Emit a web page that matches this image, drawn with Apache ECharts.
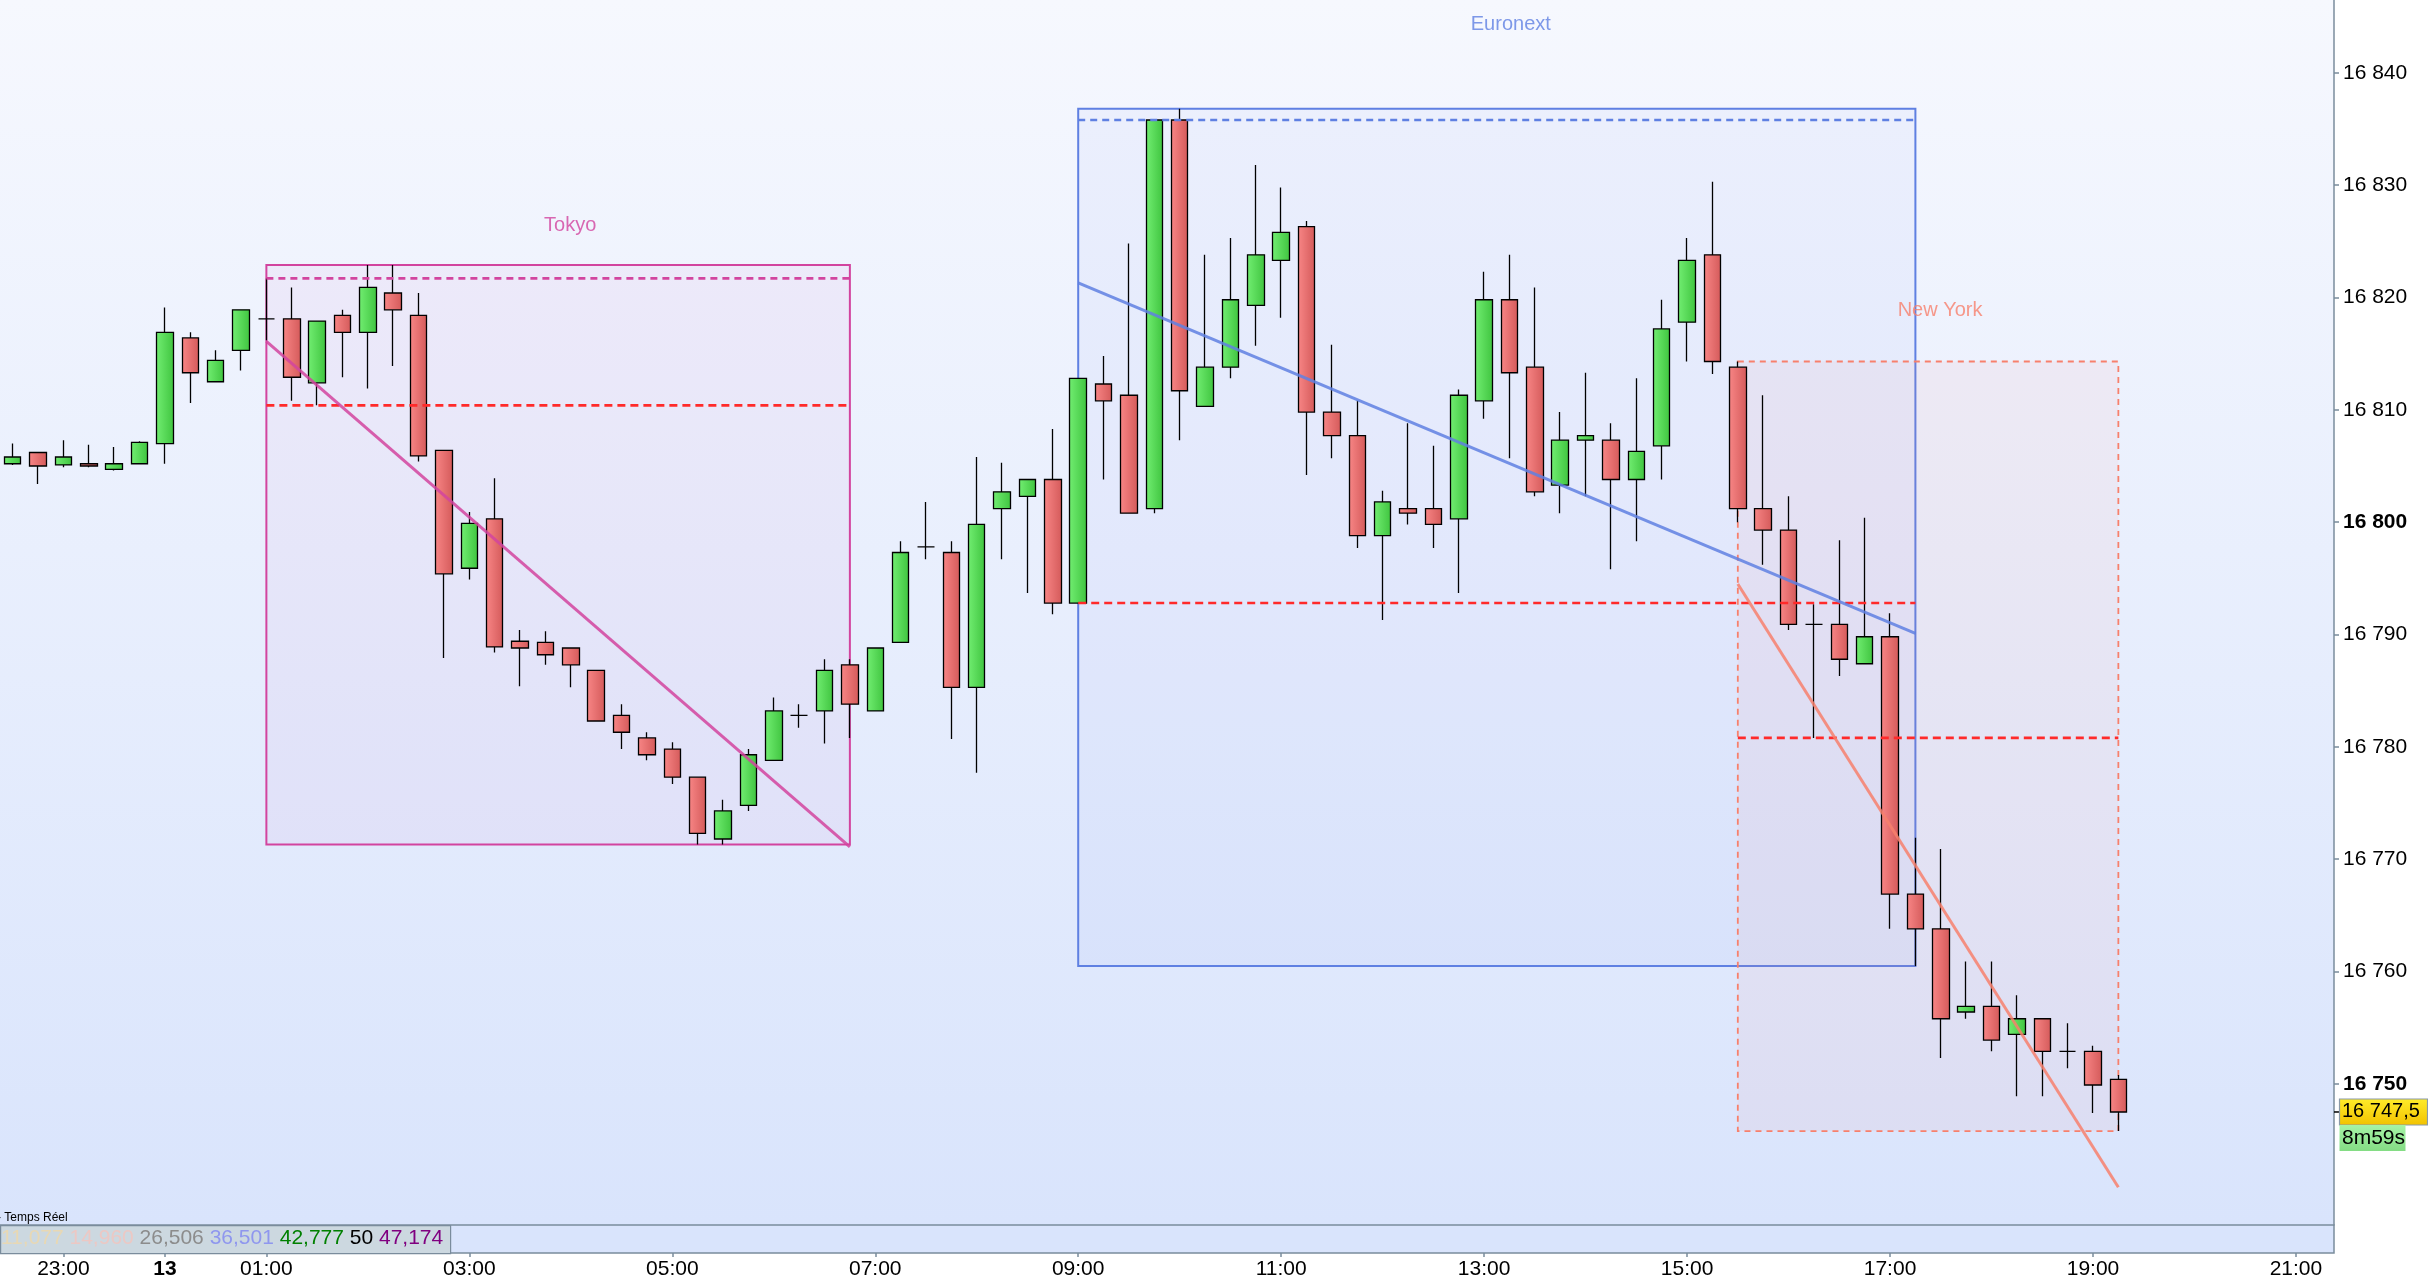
<!DOCTYPE html>
<html><head><meta charset="utf-8">
<script src="https://cdn.jsdelivr.net/npm/echarts@6/dist/echarts.min.js"></script>
<style>html,body{margin:0;padding:0;background:#fff;}#c{width:2428px;height:1282px;}</style>
</head><body><div id="c"></div>
<script>
// ---------- DATA ----------
const times = [];
for (let i = 0; i < 92; i++) {
  const m = (22 * 60 + 30 + i * 15) % 1440;
  times.push(String(Math.floor(m / 60)).padStart(2, '0') + ':' + String(m % 60).padStart(2, '0'));
}
const tickLabels = ['23:00','00:00','01:00','03:00','05:00','07:00','09:00','11:00','13:00','15:00','17:00','19:00','21:00'];
const dayLabel = { '00:00': '13' };
const yTickValues = [16750, 16760, 16770, 16780, 16790, 16800, 16810, 16820, 16830, 16840];
const boldPrices = [16750, 16800];

const open  = [16805.2,16806.2,16805.1,16805.2,16804.7,16805.2,16807.0,16816.4,16812.5,16815.3,
               16818.1,16818.1,16812.4,16818.4,16816.9,16820.4,16818.4,16806.4,16795.9,16800.3,
               16789.4,16789.3,16788.8,16786.8,16782.8,16780.8,16779.8,16777.3,16771.8,16774.8,
               16778.8,16782.8,16783.2,16787.3,16783.2,16789.3,16797.8,16797.3,16785.3,16801.2,
               16802.3,16803.8,16792.8,16812.3,16811.3,16801.2,16835.8,16810.3,16813.8,16819.3,
               16823.3,16826.3,16809.8,16807.7,16798.8,16801.2,16801.2,16800.3,16810.8,16819.8,
               16813.8,16803.3,16807.3,16807.3,16803.8,16806.8,16817.8,16823.8,16813.8,16801.2,
               16799.3,16790.9,16790.9,16787.4,16789.8,16766.9,16763.8,16756.4,16756.9,16754.4,
               16755.8,16752.9,16752.9,16750.4];
const close = [16805.8,16805.0,16805.8,16805.0,16805.2,16807.1,16816.9,16813.3,16814.4,16818.9,
               16818.1,16812.9,16817.9,16816.9,16820.9,16818.9,16805.9,16795.4,16799.9,16788.9,
               16788.8,16788.2,16787.3,16782.3,16781.3,16779.3,16777.3,16772.3,16774.3,16779.3,
               16783.2,16782.8,16786.8,16783.8,16788.8,16797.3,16797.8,16785.3,16799.8,16802.7,
               16803.8,16792.8,16812.8,16810.8,16800.8,16835.8,16811.7,16813.8,16819.8,16823.8,
               16825.8,16809.8,16807.7,16798.8,16801.8,16800.8,16799.8,16811.3,16819.8,16813.3,
               16802.7,16807.3,16807.7,16803.8,16806.3,16817.2,16823.3,16814.3,16801.2,16799.3,
               16790.9,16790.9,16787.8,16789.8,16766.9,16763.8,16755.8,16756.9,16753.9,16755.8,
               16752.9,16752.9,16749.9,16747.5];
const low   = [16805.1,16803.4,16804.9,16804.9,16804.6,16805.2,16805.2,16810.6,16812.5,16813.5,
               16816.2,16810.8,16810.4,16812.9,16811.9,16813.9,16805.4,16787.9,16794.9,16788.4,
               16785.4,16787.3,16785.3,16782.3,16779.8,16778.8,16776.7,16771.3,16771.3,16774.3,
               16778.8,16781.7,16780.3,16780.8,16783.2,16789.3,16796.7,16780.7,16777.7,16796.7,
               16793.7,16791.8,16792.8,16803.8,16800.8,16800.8,16807.3,16810.3,16812.8,16815.7,
               16818.2,16804.2,16805.7,16797.7,16791.3,16799.8,16797.7,16793.7,16809.2,16805.7,
               16802.3,16800.8,16802.3,16795.8,16798.3,16803.8,16814.3,16813.2,16800.0,16796.2,
               16790.4,16780.8,16786.3,16787.4,16763.8,16760.5,16752.3,16755.8,16752.9,16748.9,
               16748.9,16751.4,16747.4,16745.8];
const high  = [16807.0,16806.2,16807.3,16806.9,16806.7,16807.2,16819.1,16816.9,16815.3,16818.9,
               16821.7,16820.9,16817.9,16818.9,16822.9,16822.9,16820.4,16806.4,16800.9,16803.9,
               16790.4,16790.3,16788.8,16786.8,16783.8,16781.3,16780.4,16777.3,16775.3,16779.8,
               16784.4,16783.8,16787.8,16787.8,16788.8,16798.3,16801.8,16798.3,16805.8,16805.3,
               16803.8,16808.3,16812.8,16814.8,16824.8,16835.8,16836.8,16823.8,16825.3,16831.8,
               16829.8,16826.8,16815.8,16810.8,16802.8,16808.8,16806.8,16811.8,16822.3,16823.8,
               16820.9,16809.8,16813.3,16808.8,16812.8,16819.8,16825.3,16830.3,16814.3,16811.3,
               16802.3,16792.7,16798.4,16800.4,16791.9,16771.9,16770.9,16760.9,16760.9,16757.9,
               16755.8,16755.4,16753.4,16750.8];

// trading sessions (candle indexes and price levels)
const sessionNames = ['Tokyo', 'Euronext', 'New York'];
const sessionStart = [10, 42, 68];
const sessionEnd   = [33, 75, 83];
const sessionHigh  = [16822.9, 16836.8, 16814.3];
const sessionLow   = [16771.3, 16760.5, 16745.8];
const sessionTopLevel = [16821.7, 16835.8, null];
const sessionMidLevel = [16810.4, 16792.8, 16780.8];
const trendFrom = [16816.1, 16821.3, 16794.5];
const trendTo   = [16771.1, 16790.1, 16740.8];

const indicatorValues = ['11,077', '14,960', '26,506', '36,501', '42,777', '50', '47,174'];
const lastPrice = 16747.5;
const lastPriceText = '16 747,5';
const countdown = '8m59s';

// ---------- STYLE ----------
const FONT = '"Liberation Sans", Arial, sans-serif';
const sessionColor = ['#d2449f', '#5f80e2', '#f7806c'];
const sessionFill = ['rgba(200,110,200,0.07)', 'rgba(90,120,230,0.05)', 'rgba(240,130,130,0.07)'];
const sessionBorderType = ['solid', 'solid', [6, 5]];
const topLevelColor = ['#d2449f', '#5f80e2', null];
const midLevelColor = '#ff2a2a';
const labelOffset = [[12, -39], [14, -84], [12, -51]];
const indicatorColors = ['#e8d8b4', '#ecc8c4', '#8c8c8c', '#8f97ee', '#008000', '#000000', '#800080'];
const axisColor = '#7a8c9c';

const candleData = open.map((o, i) => [o, close[i], low[i], high[i]]);
const grad = (a, b) => new echarts.graphic.LinearGradient(0, 0, 1, 0, [{offset: 0, color: a}, {offset: 1, color: b}]);
const isTick = (idx, val) => tickLabels.indexOf(val !== undefined ? val : times[idx]) >= 0;

const series = [];
// session boxes
sessionNames.forEach((name, s) => {
  series.push({
    type: 'line', xAxisIndex: 1, yAxisIndex: 0, data: [], silent: true, z: 1,
    markArea: {
      silent: true,
      itemStyle: { color: sessionFill[s], borderColor: sessionColor[s], borderWidth: s === 2 ? 1.8 : 2, borderType: sessionBorderType[s] },
      data: [[{ coord: [sessionStart[s], sessionHigh[s]] }, { coord: [sessionEnd[s], sessionLow[s]] }]]
    }
  });
});
// candles
series.push({
  type: 'candlestick', xAxisIndex: 0, yAxisIndex: 0, data: candleData, barWidth: 17, z: 3,
  itemStyle: {
    color: grad('#72ee72', '#3fc43f'), color0: grad('#f88686', '#d45a5a'),
    borderColor: '#000', borderColor0: '#000', borderColorDoji: '#000', borderWidth: 1.3
  }
});
// session levels and trend lines
sessionNames.forEach((name, s) => {
  if (sessionTopLevel[s] !== null) {
    series.push({ type: 'line', xAxisIndex: 1, yAxisIndex: 0, symbol: 'none', silent: true, z: 5,
      data: [[sessionStart[s], sessionTopLevel[s]], [sessionEnd[s], sessionTopLevel[s]]],
      lineStyle: { color: topLevelColor[s], width: 2.6, type: [7, 5] } });
  }
  series.push({ type: 'line', xAxisIndex: 1, yAxisIndex: 0, symbol: 'none', silent: true, z: 5,
    data: [[sessionStart[s], sessionMidLevel[s]], [sessionEnd[s], sessionMidLevel[s]]],
    lineStyle: { color: midLevelColor, width: 2.6, type: [8, 5] } });
  series.push({ type: 'line', xAxisIndex: 1, yAxisIndex: 0, symbol: 'none', silent: true, z: 6,
    data: [[sessionStart[s], trendFrom[s]], [sessionEnd[s], trendTo[s]]],
    lineStyle: { color: sessionColor[s], width: 3, opacity: 0.85 } });
  series.push({ type: 'scatter', xAxisIndex: 1, yAxisIndex: 0, symbolSize: 0, silent: true, z: 7,
    data: [[(sessionStart[s] + sessionEnd[s]) / 2, sessionHigh[s]]],
    label: { show: true, position: 'inside', offset: labelOffset[s], formatter: name,
      color: sessionColor[s], fontSize: 20, fontFamily: FONT } });
});

const option = {
  animation: false,
  backgroundColor: '#ffffff',
  grid: [
    { left: -2, right: 94, top: 0, bottom: 57, show: true, borderWidth: 0,
      backgroundColor: new echarts.graphic.LinearGradient(0, 0, 0, 1, [{offset: 0, color: '#f6f8fe'}, {offset: 1, color: '#d9e4fc'}]) },
    { left: -2, right: 94, top: 1225, bottom: 29, show: true, backgroundColor: '#d9e4fc', borderColor: axisColor, borderWidth: 1.5 }
  ],
  xAxis: [
    { gridIndex: 0, type: 'category', data: times, boundaryGap: true, axisLine: {show: false, onZero: false}, axisTick: {show: false}, axisLabel: {show: false}, splitLine: {show: false} },
    { gridIndex: 0, type: 'value', min: -0.5, max: 91.5, show: false, axisLine: {show: false, onZero: false}, splitLine: {show: false} },
    { gridIndex: 1, type: 'category', data: times, boundaryGap: true, position: 'bottom',
      axisLine: {show: false, onZero: false},
      axisTick: {show: true, alignWithLabel: true, interval: isTick, length: 4, lineStyle: {color: axisColor, width: 1.5}},
      axisLabel: {interval: isTick, margin: 6, fontSize: 21, color: '#000', fontFamily: FONT,
        formatter: v => dayLabel[v] ? '{b|' + dayLabel[v] + '}' : v,
        rich: { b: { fontWeight: 'bold', fontSize: 21, fontFamily: FONT, color: '#000' } } },
      splitLine: {show: false} }
  ],
  yAxis: [
    { gridIndex: 0, type: 'value', position: 'right', min: 16737.44, max: 16846.48,
      axisLine: {show: true, onZero: false, lineStyle: {color: axisColor, width: 1.5}},
      axisTick: {show: true, length: 5, customValues: yTickValues, lineStyle: {color: axisColor, width: 1.5}},
      splitLine: {show: false},
      axisLabel: { customValues: yTickValues, margin: 9, fontSize: 21, color: '#000', fontFamily: FONT,
        formatter: v => {
          const r = Math.round(v);
          const s = String(r);
          const t = s.slice(0, 2) + ' ' + s.slice(2);
          return boldPrices.indexOf(r) >= 0 ? '{b|' + t + '}' : t;
        },
        rich: { b: { fontWeight: 'bold', fontSize: 21, fontFamily: FONT, color: '#000' } } } },
    { gridIndex: 1, type: 'value', show: false, axisLine: {show: false, onZero: false}, splitLine: {show: false} }
  ],
  series: series
};

const chart = echarts.init(document.getElementById('c'), null, { renderer: 'canvas' });
chart.setOption(option);

const py = chart.convertToPixel({ yAxisIndex: 0 }, lastPrice);
const richParts = indicatorValues.map((v, i) => '{c' + i + '|' + v + '}').join(' ');
const richStyles = {};
indicatorColors.forEach((c, i) => { richStyles['c' + i] = { fill: c, fontSize: 21, fontFamily: FONT }; });

chart.setOption({
  graphic: [
    { type: 'rect', left: 0, top: 1225, z: 10, silent: true,
      shape: { width: 450, height: 28 }, style: { fill: '#ccd8e0', stroke: axisColor, lineWidth: 1.2 } },
    { type: 'text', left: 1, top: 1228, z: 11, silent: true,
      style: { text: richParts, rich: richStyles, fill: '#000', font: '21px ' + FONT } },
    { type: 'text', left: -3, top: 1212, z: 11, silent: true,
      style: { text: '- Temps Réel', fill: '#000', font: '12px ' + FONT } },
    { type: 'line', z: 11, silent: true,
      shape: { x1: 2334, y1: py, x2: 2339, y2: py }, style: { stroke: '#000', lineWidth: 1.5 } },
    { type: 'rect', z: 11, silent: true, x: 2339.5, y: py - 13,
      shape: { width: 88, height: 26 },
      style: { fill: new echarts.graphic.LinearGradient(0, 0, 0, 1, [{offset: 0, color: '#ffec2a'}, {offset: 1, color: '#f2c200'}]), stroke: '#8a9aa8', lineWidth: 1.2 } },
    { type: 'text', z: 12, silent: true, x: 2342, y: py,
      style: { text: lastPriceText, fill: '#000', font: '20px ' + FONT, verticalAlign: 'middle' } },
    { type: 'rect', z: 11, silent: true, x: 2339.5, y: py + 13,
      shape: { width: 66, height: 26 },
      style: { fill: new echarts.graphic.LinearGradient(0, 0, 0, 1, [{offset: 0, color: '#a6f4a6'}, {offset: 1, color: '#84dc84'}]) } },
    { type: 'text', z: 12, silent: true, x: 2342, y: py + 26,
      style: { text: countdown, fill: '#000', font: '21px ' + FONT, verticalAlign: 'middle' } }
  ]
});
</script>
</body></html>
